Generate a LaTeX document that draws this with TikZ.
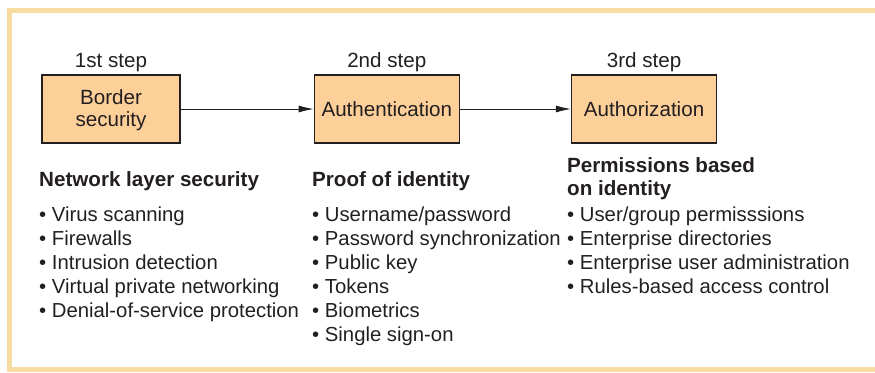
\documentclass[tikz,border=0pt]{standalone}
\usepackage{fontspec}
\setmainfont{Liberation Sans}
\usetikzlibrary{positioning,arrows.meta}
\definecolor{framegold}{RGB}{246,220,160}
\definecolor{boxpeach}{RGB}{253,208,153}
\definecolor{inkgray}{RGB}{35,31,32}

\begin{document}
\begin{tikzpicture}[
  x=1pt, y=-1pt,
  font=\fontsize{20.3}{24}\selectfont,
  every node/.style={text=inkgray},
  stepbox/.style={draw=inkgray, fill=boxpeach, line width=1.3pt, minimum height=68pt,
                  align=center, inner sep=2pt, font=\fontsize{20.6}{22}\selectfont},
  steplbl/.style={inner sep=0pt, font=\fontsize{20.6}{24}\selectfont},
  head/.style={font=\fontsize{20.6}{22.5}\selectfont\bfseries, align=left, anchor=base west, inner sep=0pt},
  items/.style={align=left, anchor=base west, inner sep=0pt},
  arr/.style={-{Latex[length=15pt,width=7pt]}, line width=0.9pt, draw=inkgray},
]
\useasboundingbox (0,0) rectangle (875,372);

% Frame (open on the right)
\draw[framegold, line width=5pt] (9.5,10.5) -- (875,10.5);
\draw[framegold, line width=5pt] (9.5,8) -- (9.5,372);
\draw[framegold, line width=5pt] (9.5,369.5) -- (875,369.5);

% Steps
\node[stepbox, minimum width=138pt] (border) at (111,109) {\rule{0pt}{18pt}Border\\security};
\node[stepbox, minimum width=145pt, right=133pt of border] (authn) {Authentication};
\node[stepbox, minimum width=145pt, right=111pt of authn]  (authz) {Authorization};

\node[steplbl, above=2.5pt of border] (s1) {1st step};
\node[steplbl, above=2.5pt of authn]  (s2) {2nd step};
\node[steplbl, above=2.5pt of authz]  (s3) {3rd step};

% Arrows
\draw[arr] (border) -- (authn);
\draw[arr] (authn) -- (authz);

% Headings (base = last line)
\node[head] (h1) at (39,186) {Network layer security};
\node[head] (h2) at (312,186) {Proof of identity};
\node[head] (h3) at (567,195) {Permissions based\\on identity};

% Lists (base = last line)
\node[items] (l1) at (39,317.5) {\textbullet\ Virus scanning\\
  \textbullet\ Firewalls\\
  \textbullet\ Intrusion detection\\
  \textbullet\ Virtual private networking\\
  \textbullet\ Denial-of-service protection};
\node[items] (l2) at (312,341.5) {\textbullet\ Username/password\\
  \textbullet\ Password synchronization\\
  \textbullet\ Public key\\
  \textbullet\ Tokens\\
  \textbullet\ Biometrics\\
  \textbullet\ Single sign-on};
\node[items] (l3) at (567,293.5) {\textbullet\ User/group permisssions\\
  \textbullet\ Enterprise directories\\
  \textbullet\ Enterprise user administration\\
  \textbullet\ Rules-based access control};

\end{tikzpicture}
\end{document}
